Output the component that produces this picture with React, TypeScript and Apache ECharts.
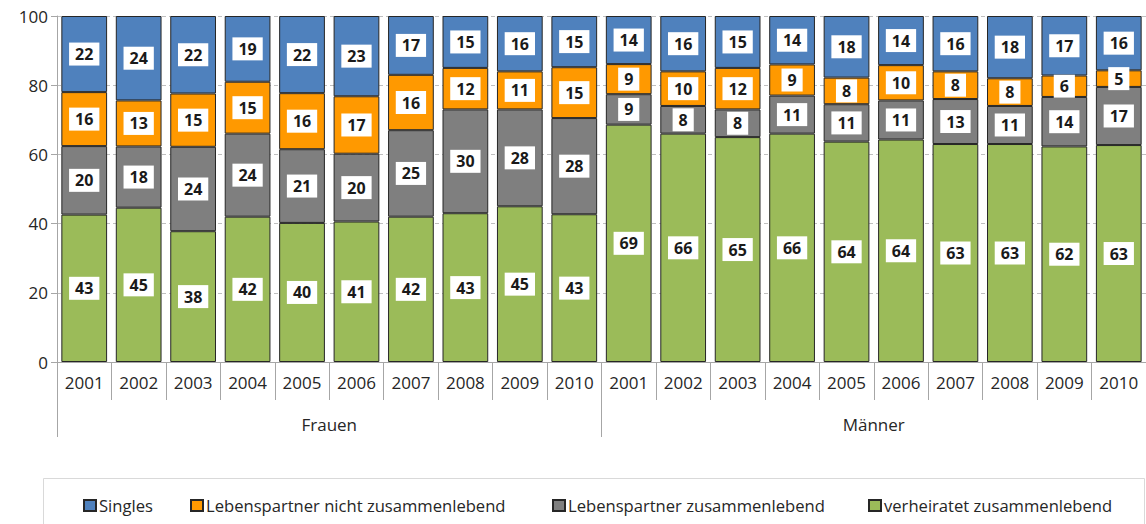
import React, { useEffect, useRef } from "react";
import * as echarts from "echarts";

const years = ["2001", "2002", "2003", "2004", "2005", "2006", "2007", "2008", "2009", "2010"];
const groups = ["Frauen", "Männer"];
const categories = [...years, ...years];

// Frauen 2001-2010, then Männer 2001-2010 (percent, estimated; labels show rounded values)
const verheiratet = [42.6, 44.6, 37.8, 42, 40.2, 40.6, 42, 43, 45, 42.7, 68.6, 66, 65, 66, 63.7, 64.3, 63, 63, 62.3, 62.7];
const lpZusammen = [19.8, 17.7, 24.4, 24, 21.3, 19.6, 25, 30, 28, 27.8, 8.8, 8, 8, 11, 10.8, 11.3, 13, 11, 14.3, 16.8];
const lpNicht = [15.6, 13.3, 15.4, 15, 16.2, 16.6, 16, 12, 11, 14.7, 8.7, 10, 12, 9, 7.7, 10.2, 8, 8, 6.2, 4.8];
const singles = [22.0, 24.4, 22.4, 19, 22.3, 23.2, 17, 15, 16, 14.8, 13.9, 16, 15, 14, 17.8, 14.2, 16, 18, 17.2, 15.7];

const seriesNames = [
  "verheiratet zusammenlebend",
  "Lebenspartner zusammenlebend",
  "Lebenspartner nicht zusammenlebend",
  "Singles",
];
const seriesData = [verheiratet, lpZusammen, lpNicht, singles];
const colors = ["#9bbb59", "#7f7f7f", "#ff9900", "#4f81bd"];

const legendOrder = ["Singles", "Lebenspartner nicht zusammenlebend", "Lebenspartner zusammenlebend", "verheiratet zusammenlebend"];
const legendLeft = [78, 185, 547, 863];

const FONT = "'Open Sans', Lato, sans-serif";

export default function App() {
  const ref = useRef<HTMLDivElement>(null);
  useEffect(() => {
    document.body.style.margin = "0";
    const chart = echarts.init(ref.current!, null, { renderer: "svg" });
    const option: any = {
      animation: false,
      textStyle: { fontFamily: FONT },
      color: colors,
      grid: { left: 57, right: -1, top: 16, bottom: 162, containLabel: false },
      legend: legendOrder.map((name, i) => ({
        data: [name],
        left: legendLeft[i],
        top: 492,
        icon: "rect",
        itemWidth: 12,
        itemHeight: 11,
        itemGap: 6,
        textStyle: { fontSize: 16.6, color: "#262626", fontFamily: FONT, padding: [0, 0, 0, -2] },
        selectedMode: false,
      })),
      xAxis: [
        {
          type: "category",
          data: categories,
          position: "bottom",
          axisLine: { show: true, lineStyle: { color: "#a6a6a6", width: 1 } },
          axisTick: { show: true, interval: 0, length: 38, lineStyle: { color: "#a6a6a6" } },
          axisLabel: { interval: 0, margin: 12, fontSize: 17, color: "#262626", fontFamily: FONT },
          splitLine: { show: false },
        },
        {
          type: "category",
          data: groups,
          position: "bottom",
          axisLine: { show: false },
          axisTick: { show: true, interval: 0, length: 75, lineStyle: { color: "#a6a6a6" } },
          axisLabel: { interval: 0, margin: 54, fontSize: 17, color: "#262626", fontFamily: FONT },
          splitLine: { show: false },
        },
      ],
      yAxis: {
        type: "value",
        min: 0,
        max: 100,
        interval: 20,
        axisLine: { show: true, lineStyle: { color: "#a6a6a6" } },
        axisTick: { show: true, length: 6, lineStyle: { color: "#a6a6a6" } },
        axisLabel: { margin: 9, fontSize: 17, color: "#262626", fontFamily: FONT },
        splitLine: { show: true, lineStyle: { color: "#bfbfbf", type: [4, 3] } },
      },
      series: seriesNames.map((name, i) => ({
        name,
        type: "bar",
        stack: "total",
        xAxisIndex: 0,
        data: seriesData[i],
        barCategoryGap: "16%",
        itemStyle: { color: colors[i], borderColor: "#262626", borderWidth: 1 },
        label: {
          show: true,
          position: "inside",
          formatter: (p: any) => String(Math.round(p.value)),
          fontSize: 16,
          fontWeight: "bold",
          color: "#1a1a1a",
          fontFamily: FONT,
          backgroundColor: "#ffffff",
          padding: [4, 6, 3, 6],
        },
      })),
      graphic: [
        {
          type: "rect",
          shape: { x: 43.5, y: 478.5, width: 1101, height: 60 },
          style: { fill: "none", stroke: "#d9d9d9", lineWidth: 1 },
          silent: true,
        },
      ],
    };
    chart.setOption(option);
    return () => chart.dispose();
  }, []);
  return <div ref={ref} style={{ width: 1146, height: 524 }} />;
}
